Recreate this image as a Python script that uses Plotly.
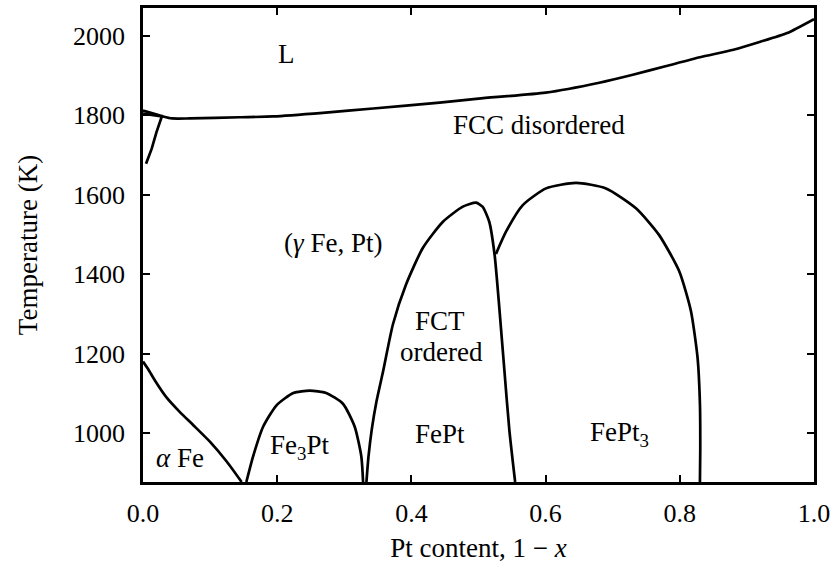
import plotly.graph_objects as go

# Fe-Pt phase diagram: phase boundaries as (Pt fraction, temperature in K)
liquidus_x = [0.0, 0.018, 0.030, 0.043, 0.07, 0.144, 0.194, 0.268, 0.343, 0.442,
              0.50, 0.60, 0.68, 0.73, 0.78, 0.83, 0.88, 0.92, 0.96, 1.0]
liquidus_t = [1812, 1803, 1797, 1792, 1792, 1795, 1797, 1806, 1817, 1832,
              1842, 1857, 1882, 1902, 1924, 1946, 1965, 1985, 2007, 2042]

delta_solidus_x = [0.0, 0.014, 0.028]
delta_solidus_t = [1804, 1801, 1797]

delta_gamma_x = [0.028, 0.020, 0.013, 0.0045]
delta_gamma_t = [1797, 1757, 1716, 1678]

alpha_x = [0.0, 0.008, 0.018, 0.035, 0.055, 0.075, 0.100, 0.125, 0.147]
alpha_t = [1180, 1160, 1132, 1090, 1053, 1020, 978, 928, 877]

fe3pt_x = [0.154, 0.164, 0.179, 0.199, 0.224, 0.2485, 0.273, 0.298, 0.3155, 0.3254, 0.328]
fe3pt_t = [877, 941, 1016, 1070, 1101, 1107, 1101, 1074, 1016, 941, 877]

fept_x = [0.333, 0.336, 0.341, 0.348, 0.358, 0.3725, 0.392, 0.417, 0.447, 0.4767,
          0.4965, 0.506, 0.516, 0.524, 0.531, 0.539, 0.546, 0.5546]
fept_t = [877, 940, 1010, 1080, 1157, 1274, 1374, 1466, 1532, 1570,
          1580, 1570, 1532, 1449, 1316, 1149, 1007, 877]

fept3_x = [0.526, 0.541, 0.566, 0.6007, 0.6454, 0.690, 0.7347, 0.769, 0.799,
           0.8165, 0.8264, 0.830, 0.8305, 0.830]
fept3_t = [1451, 1507, 1574, 1616, 1630, 1616, 1566, 1499, 1408,
           1308, 1191, 1074, 960, 877]

x_ticks = [0.0, 0.2, 0.4, 0.6, 0.8, 1.0]
x_tick_text = ["0.0", "0.2", "0.4", "0.6", "0.8", "1.0"]
y_ticks = [1000, 1200, 1400, 1600, 1800, 2000]

# region labels: (text, x, T)
region_labels = [
    ("L", 0.214, 1953),
    ("FCC disordered", 0.59, 1775),
    ("(<i>γ</i> Fe, Pt)", 0.283, 1478),
    ("FCT", 0.443, 1283),
    ("ordered", 0.445, 1204),
    ("FePt", 0.442, 999),
    ("FePt<sub>3</sub>", 0.71, 999),
    ("Fe<sub>3</sub>Pt", 0.2336, 966),
    ("<i>α</i> Fe", 0.055, 937),
]

FONT = "Liberation Serif, DejaVu Serif, serif"

fig = go.Figure()
line_style = dict(color="black", width=2.7)
for xs, ts, shape in [
    (liquidus_x, liquidus_t, "spline"),
    (delta_solidus_x, delta_solidus_t, "linear"),
    (delta_gamma_x, delta_gamma_t, "linear"),
    (alpha_x, alpha_t, "spline"),
    (fe3pt_x, fe3pt_t, "spline"),
    (fept_x, fept_t, "spline"),
    (fept3_x, fept3_t, "spline"),
]:
    fig.add_trace(go.Scatter(
        x=xs, y=ts, mode="lines",
        line=dict(shape=shape, smoothing=0.6, **line_style),
        hoverinfo="skip", showlegend=False, cliponaxis=True,
    ))

for text, lx, lt in region_labels:
    fig.add_annotation(x=lx, y=lt, text=text, showarrow=False, borderpad=0,
                       font=dict(family=FONT, size=27, color="black"))

axis_common = dict(
    showline=True, linecolor="black", linewidth=2.6, mirror="ticks",
    ticks="inside", ticklen=7, tickwidth=2, tickcolor="black",
    showgrid=False, zeroline=False,
    tickfont=dict(family=FONT, size=26, color="black"),
)

fig.update_layout(
    width=835, height=572,
    margin=dict(l=143, r=20, t=5, b=90),
    paper_bgcolor="white", plot_bgcolor="white",
    showlegend=False,
    xaxis=dict(range=[0, 1], tickvals=x_ticks, ticktext=x_tick_text,
               title=dict(text="Pt content, 1 − <i>x</i>", standoff=12,
                          font=dict(family=FONT, size=27, color="black")),
               ticklabelstandoff=6, **axis_common),
    yaxis=dict(range=[877, 2070], tickvals=y_ticks,
               title=dict(text="Temperature (K)", standoff=28,
                          font=dict(family=FONT, size=27, color="black")),
               ticklabelstandoff=10, **axis_common),
)

fig.write_html("out.html")
